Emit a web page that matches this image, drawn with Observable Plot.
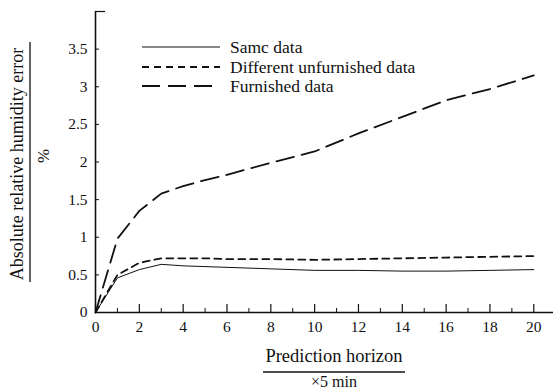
<!DOCTYPE html>
<html>
<head>
<meta charset="utf-8">
<script src="https://cdn.jsdelivr.net/npm/d3@7"></script>
<script src="https://cdn.jsdelivr.net/npm/@observablehq/plot@0.6"></script>
<style>
  html, body { margin: 0; padding: 0; background: #fff; }
  #chart svg { display: block; }
</style>
</head>
<body>
<div id="chart"></div>
<script>
// ---- data ----
const horizon = [0, 1, 2, 3, 4, 5, 6, 8, 10, 12, 14, 16, 18, 20];
const sameData = [0, 0.46, 0.57, 0.64, 0.62, 0.61, 0.60, 0.58, 0.56, 0.56, 0.55, 0.55, 0.56, 0.57];
const diffUnfurnished = [0, 0.50, 0.66, 0.72, 0.72, 0.72, 0.71, 0.71, 0.70, 0.71, 0.72, 0.73, 0.74, 0.75];
const furnished = [0, 0.98, 1.35, 1.58, 1.68, 1.76, 1.83, 1.99, 2.14, 2.38, 2.60, 2.82, 2.97, 3.15];
const seriesNames = ["Samc data", "Different unfurnished data", "Furnished data"];
const xTickMajor = [0, 2, 4, 6, 8, 10, 12, 14, 16, 18, 20];
const xTickMinor = [1, 3, 5, 7, 9, 11, 13, 15, 17, 19];
const yTicks = [0, 0.5, 1, 1.5, 2, 2.5, 3, 3.5];
const yTickLabels = ["0", "0.5", "1", "1.5", "2", "2.5", "3", "3.5"];
const yLabel = "Absolute relative humidity error";
const yUnit = "%";
const xLabel = "Prediction horizon";
const xUnit = "×5 min";

const styles = [
  {strokeWidth: 1, dash: null},
  {strokeWidth: 1.8, dash: "7,5"},
  {strokeWidth: 1.8, dash: "18,8"}
];
const seriesValues = [sameData, diffUnfurnished, furnished];

const rows = [];
seriesValues.forEach((vals, i) => vals.forEach((v, j) => rows.push({s: i, x: horizon[j], y: v})));

const W = 554, H = 391;
const font = "'Liberation Serif', 'Times New Roman', serif";
const mTop = 11, mBottom = 79, mLeft = 95, mRight = 1;
const plotH = H - mTop - mBottom;
const plotW = W - mLeft - mRight;

const lineMarks = seriesValues.map((vals, i) =>
  Plot.line(rows.filter(d => d.s === i), {
    x: "x", y: "y", stroke: "#111",
    strokeWidth: styles[i].strokeWidth,
    strokeDasharray: styles[i].dash,
    curve: "linear"
  })
);

const plot = Plot.plot({
  width: W, height: H,
  marginTop: mTop, marginBottom: mBottom, marginLeft: mLeft, marginRight: mRight,
  style: {fontFamily: font, background: "#fff", color: "#111"},
  x: {domain: [0, 20.9]},
  y: {domain: [0, 4]},
  marks: [
    Plot.axisX({ticks: xTickMajor, tickSize: 0, tickPadding: 8, fontSize: 15.5, label: null, tickFormat: d => String(d)}),
    Plot.axisY({ticks: yTicks, tickSize: 0, tickPadding: 8, fontSize: 15.5, label: null, tickFormat: (d, i) => yTickLabels[i]}),
    Plot.ruleY([0], {stroke: "#111", strokeWidth: 1.6}),
    Plot.ruleX([0], {stroke: "#111", strokeWidth: 1.6}),
    Plot.tickX(xTickMajor, {x: d => d, stroke: "#111", strokeWidth: 1.2, insetTop: plotH - 8}),
    Plot.tickX(xTickMinor, {x: d => d, stroke: "#111", strokeWidth: 1, insetTop: plotH - 4}),
    Plot.tickY(yTicks, {y: d => d, stroke: "#111", strokeWidth: 1, insetRight: plotW - 4}),
    Plot.tickY([4], {y: d => d, stroke: "#111", strokeWidth: 1.2, insetRight: plotW - 10}),
    ...lineMarks
  ]
});

document.getElementById("chart").appendChild(plot);

// ---- decorations: legend and fraction-style axis titles ----
const svg = d3.select(plot);

const leg = svg.append("g").attr("font-family", font).attr("font-size", 17.5).attr("fill", "#111");
const legX0 = 142, legX1 = 220, legTextX = 230, legY = [47, 67, 86];
seriesNames.forEach((name, i) => {
  leg.append("line")
    .attr("x1", legX0).attr("x2", legX1).attr("y1", legY[i]).attr("y2", legY[i])
    .attr("stroke", "#111").attr("stroke-width", styles[i].strokeWidth)
    .attr("stroke-dasharray", styles[i].dash);
  leg.append("text").attr("x", legTextX).attr("y", legY[i]).attr("dy", "0.32em")
    .attr("text-anchor", "start").text(name);
});

// y title
const ty = svg.append("g").attr("font-family", font).attr("fill", "#111");
ty.append("text")
  .attr("transform", "translate(17,164) rotate(-90)")
  .attr("text-anchor", "middle").attr("dy", "0.35em").attr("font-size", 18).text(yLabel);
ty.append("line").attr("x1", 30).attr("x2", 30).attr("y1", 42).attr("y2", 282)
  .attr("stroke", "#111").attr("stroke-width", 1.3);
ty.append("text")
  .attr("transform", "translate(43,156) rotate(-90)")
  .attr("text-anchor", "middle").attr("dy", "0.35em").attr("font-size", 17).text(yUnit);

// x title
const tx = svg.append("g").attr("font-family", font).attr("fill", "#111");
tx.append("text").attr("x", 334).attr("y", 356).attr("text-anchor", "middle").attr("dy", "0.35em")
  .attr("font-size", 18.5).text(xLabel);
tx.append("line").attr("x1", 263).attr("x2", 405).attr("y1", 372).attr("y2", 372)
  .attr("stroke", "#111").attr("stroke-width", 1.3);
tx.append("text").attr("x", 334).attr("y", 381.5).attr("text-anchor", "middle").attr("dy", "0.35em")
  .attr("font-size", 16).text(xUnit);
</script>
</body>
</html>
